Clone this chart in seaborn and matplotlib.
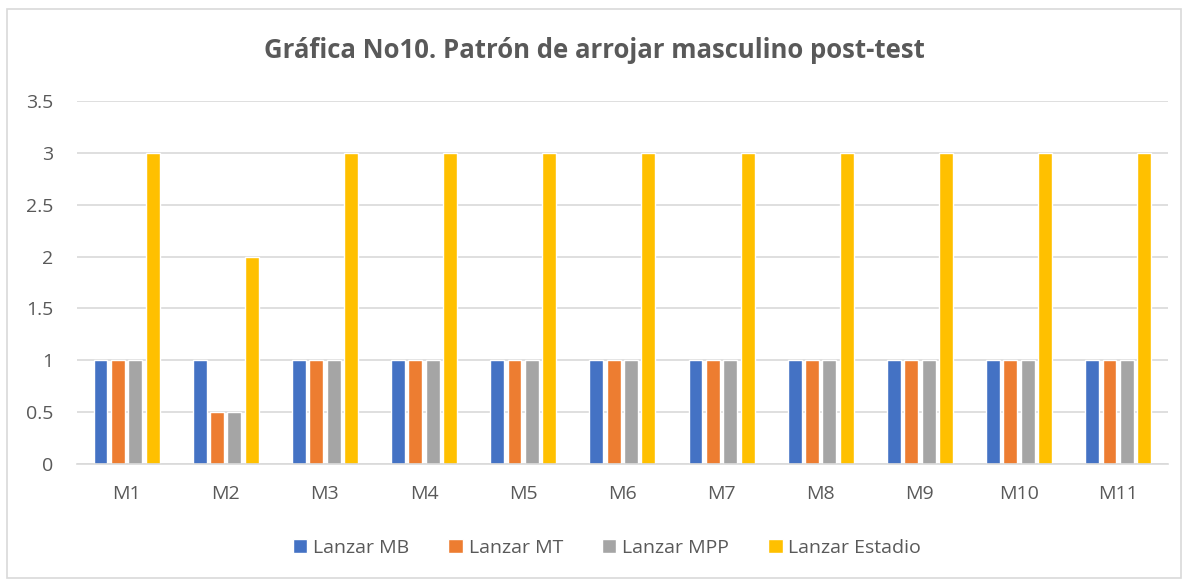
import matplotlib
matplotlib.use("Agg")
import matplotlib.pyplot as plt
import seaborn as sns
import pandas as pd
from matplotlib.patches import Rectangle

categories = ["M1", "M2", "M3", "M4", "M5", "M6", "M7", "M8", "M9", "M10", "M11"]
lanzar_mb = [1, 1, 1, 1, 1, 1, 1, 1, 1, 1, 1]
lanzar_mt = [1, 0.5, 1, 1, 1, 1, 1, 1, 1, 1, 1]
lanzar_mpp = [1, 0.5, 1, 1, 1, 1, 1, 1, 1, 1, 1]
lanzar_estadio = [3, 2, 3, 3, 3, 3, 3, 3, 3, 3, 3]
series_names = ["Lanzar MB", "Lanzar MT", "Lanzar MPP", "Lanzar Estadio"]
colors = ["#4472C4", "#ED7D31", "#A5A5A5", "#FFC000"]
title = "Gráfica No10. Patrón de arrojar masculino post-test"

rows = []
for name, vals in zip(series_names, [lanzar_mb, lanzar_mt, lanzar_mpp, lanzar_estadio]):
    for c, v in zip(categories, vals):
        rows.append({"cat": c, "serie": name, "valor": v})
df = pd.DataFrame(rows)

sns.set_theme(style="white")
plt.rcParams["font.family"] = ["Open Sans", "DejaVu Sans"]
text_color = "#595959"

fig = plt.figure(figsize=(11.88, 5.84), dpi=100)
ax = fig.add_axes([0.0648, 0.2055, 0.9182, 0.6215])

sns.barplot(data=df, x="cat", y="valor", hue="serie", order=categories,
            hue_order=series_names, palette=colors, width=0.7, gap=0.2,
            saturation=1, ax=ax, legend=True)

ax.set_ylim(0, 3.5)
ax.set_yticks([0, 0.5, 1, 1.5, 2, 2.5, 3, 3.5])
ax.set_yticklabels(["0", "0.5", "1", "1.5", "2", "2.5", "3", "3.5"])
ax.set_xlim(-0.5, len(categories) - 0.5)
ax.yaxis.grid(True, color="#D9D9D9", linewidth=1.2)
ax.set_axisbelow(True)
for s in ["top", "right", "left"]:
    ax.spines[s].set_visible(False)
ax.spines["bottom"].set_color("#D9D9D9")
ax.spines["bottom"].set_linewidth(1.2)
ax.tick_params(axis="both", length=0, labelsize=14, colors=text_color)
ax.tick_params(axis="x", pad=15)
ax.tick_params(axis="y", pad=17)
ax.set_xlabel("")
ax.set_ylabel("")

handles, labels = ax.get_legend_handles_labels()
ax.legend_.remove()
fig.legend(handles, labels, loc="center", bbox_to_anchor=(0.511, 1 - 548 / 584), ncol=4,
           frameon=False, fontsize=14, labelcolor=text_color, handlelength=0.75,
           handleheight=0.75, handletextpad=0.3, columnspacing=2.0)

fig.text(0.5, 0.914, title, ha="center", va="center", fontsize=18.5,
         fontweight="bold", color=text_color)

fig.patches.append(Rectangle((0.006, 0.01), 0.988, 0.975, transform=fig.transFigure,
                             fill=False, edgecolor="#D9D9D9", linewidth=1.2))

fig.savefig("out.png", dpi=100)
